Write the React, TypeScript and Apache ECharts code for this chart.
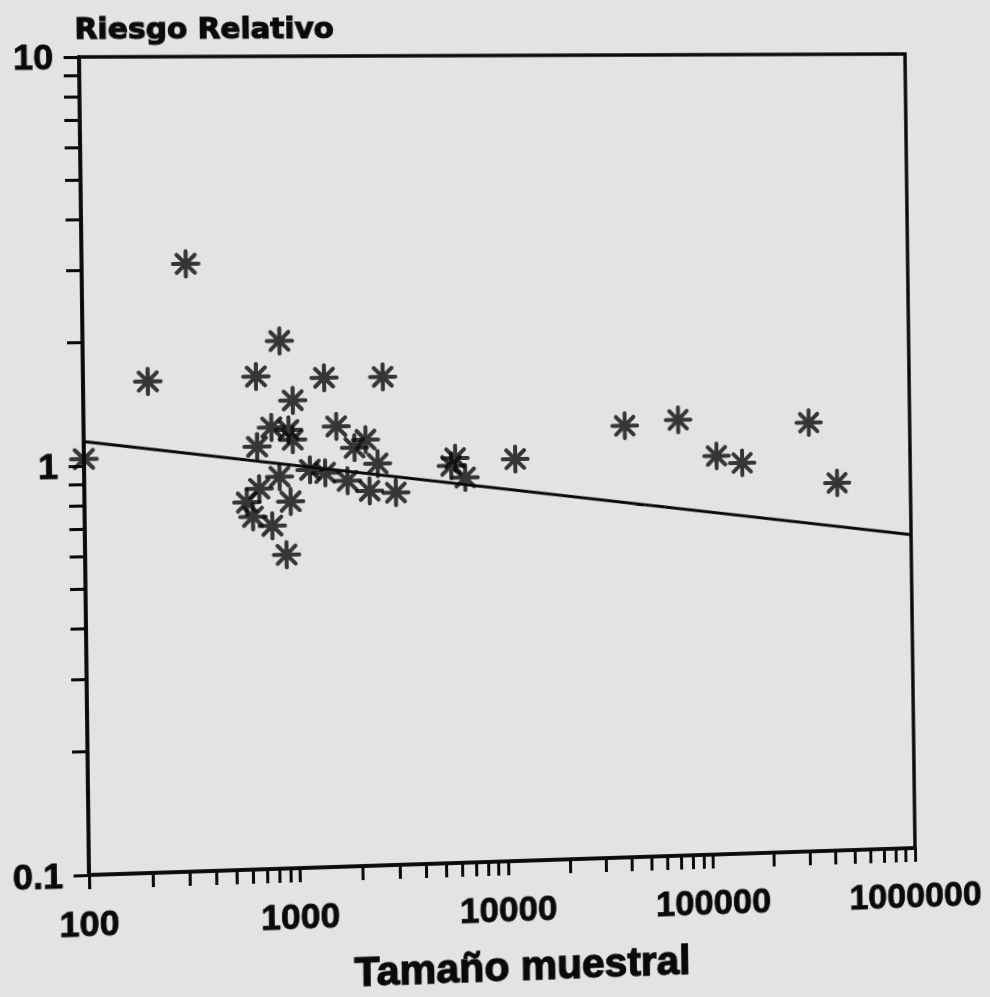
import React, { useEffect, useRef } from "react";
import * as echarts from "echarts";

// ---- data ----
const sampleSize = [
  100, 202, 310, 658, 855, 982, 774, 934, 976, 660, 1390, 2655, 1580, 1925, 2178,
  2482, 1176, 1390, 841, 1775, 2263, 3025, 672, 586, 947, 625, 772, 899, 5600,
  5865, 6540, 11440, 39200, 71600, 110000, 147000, 315000, 432000,
];
const relativeRisk = [
  1.04, 1.6, 3.1, 1.63, 1.99, 1.42, 1.22, 1.2, 1.135, 1.095, 1.61, 1.61, 1.22,
  1.078, 1.127, 0.983, 0.956, 0.938, 0.922, 0.894, 0.843, 0.832, 0.863, 0.8, 0.8,
  0.737, 0.699, 0.592, 0.964, 1.006, 0.9, 0.994, 1.19, 1.225, 0.992, 0.95, 1.19,
  0.838,
];
const fitX = [100, 1000000];
const fitY = [1.147, 0.615];

const xTickValues = [100, 1000, 10000, 100000, 1000000];
const xTickLabels = ["100", "1000", "10000", "100000", "1000000"];
const yTickValues = [0.1, 1, 10];
const yTickLabels = ["0.1", "1", "10"];
const tickMultipliers = [1, 2, 3, 4, 5, 6, 7, 8, 9];

const yTitle = "Riesgo Relativo";
const xTitle = "Tamaño muestral";

// ---- layout ----
const W = 990;
const H = 997;
const GRID = { left: 84, top: 56, width: 826, height: 806 };
// the scanned plot frame is slightly skewed: map the chart rectangle onto it
const SRC = [
  [84, 56],
  [910, 56],
  [910, 862],
  [84, 862],
];
const DST = [
  [79, 57],
  [905, 54],
  [915, 848],
  [89, 875],
];

function homography(src: number[][], dst: number[][]): number[] {
  const A: number[][] = [];
  for (let i = 0; i < 4; i++) {
    const [x, y] = src[i];
    const [X, Y] = dst[i];
    A.push([x, y, 1, 0, 0, 0, -x * X, -y * X, X]);
    A.push([0, 0, 0, x, y, 1, -x * Y, -y * Y, Y]);
  }
  const n = 8;
  for (let c = 0; c < n; c++) {
    let p = c;
    for (let r = c + 1; r < n; r++) if (Math.abs(A[r][c]) > Math.abs(A[p][c])) p = r;
    [A[c], A[p]] = [A[p], A[c]];
    for (let r = 0; r < n; r++) {
      if (r === c) continue;
      const f = A[r][c] / A[c][c];
      for (let k = c; k <= n; k++) A[r][k] -= f * A[c][k];
    }
  }
  return A.map((row, i) => row[n] / row[i]);
}

function ticksFor(decades: number[]): number[] {
  const out: number[] = [];
  for (let d = 0; d < decades.length - 1; d++) {
    for (const m of tickMultipliers) out.push(decades[d] * m);
  }
  out.push(decades[decades.length - 1]);
  return out;
}

const INK = "#0a0a0a";
const PAPER = "#e3e3e3";
const STAR =
  "path://M0,-10L0,10M-10,0L10,0M-7.07,-7.07L7.07,7.07M-7.07,7.07L7.07,-7.07";

export default function App() {
  const ref = useRef<HTMLDivElement>(null);

  useEffect(() => {
    if (!ref.current) return;
    const chart = echarts.init(ref.current, undefined, {
      renderer: "svg",
      width: W,
      height: H,
    });
    const labelStyle = {
      fontFamily: "Liberation Sans",
      fontWeight: "bold" as const,
      fontSize: 35,
      color: INK,
      textBorderColor: INK,
      textBorderWidth: 0.8,
    };
    chart.setOption({
      animation: false,
      backgroundColor: PAPER,
      grid: {
        ...GRID,
        show: true,
        borderColor: INK,
        borderWidth: 3.5,
        backgroundColor: "transparent",
      },
      xAxis: {
        type: "log",
        logBase: 10,
        min: 100,
        max: 1000000,
        axisLine: { show: true, onZero: false, lineStyle: { color: INK, width: 3.5 } },
        axisTick: {
          show: true,
          length: 14,
          customValues: ticksFor(xTickValues),
          lineStyle: { color: INK, width: 3 },
        },
        axisLabel: {
          ...labelStyle,
          margin: 30,
          customValues: xTickValues,
          formatter: (v: number) => {
            const i = xTickValues.findIndex((t) => Math.abs(t - v) / t < 1e-6);
            return i >= 0 ? xTickLabels[i] : "";
          },
        },
        splitLine: { show: false },
        minorTick: { show: false },
      },
      yAxis: {
        type: "log",
        logBase: 10,
        min: 0.1,
        max: 10,
        axisLine: { show: true, onZero: false, lineStyle: { color: INK, width: 3.5 } },
        axisTick: {
          show: true,
          length: 15,
          customValues: ticksFor(yTickValues),
          lineStyle: { color: INK, width: 3 },
        },
        axisLabel: {
          ...labelStyle,
          margin: 25,
          customValues: yTickValues,
          formatter: (v: number) => {
            const i = yTickValues.findIndex((t) => Math.abs(t - v) / t < 1e-6);
            return i >= 0 ? yTickLabels[i] : "";
          },
        },
        splitLine: { show: false },
      },
      graphic: [
        {
          type: "text",
          x: 80,
          y: 28,
          style: {
            text: yTitle,
            font: 'bold 29px "DejaVu Sans"',
            fill: INK,
            stroke: INK,
            lineWidth: 1.2,
            align: "left",
            verticalAlign: "middle",
          },
        },
        {
          type: "text",
          x: 511,
          y: 967,
          style: {
            text: xTitle,
            font: 'bold 41px "Liberation Sans"',
            lineHeight: 40,
            fill: INK,
            stroke: INK,
            lineWidth: 1.3,
            align: "center",
            verticalAlign: "middle",
          },
        },
      ],
      series: [
        {
          type: "line",
          data: fitX.map((x, i) => [x, fitY[i]]),
          showSymbol: false,
          lineStyle: { color: INK, width: 3 },
          silent: true,
          z: 2,
        },
        {
          type: "scatter",
          data: sampleSize.map((x, i) => [x, relativeRisk[i]]),
          symbol: STAR,
          symbolSize: 25,
          clip: false,
          itemStyle: {
            color: "rgba(0,0,0,0)",
            borderColor: INK,
            borderWidth: 4,
            borderCap: "round",
          },
          emphasis: { disabled: true },
          silent: true,
          z: 3,
        },
      ],
    });
    return () => chart.dispose();
  }, []);

  const h = homography(SRC, DST);
  const matrix = `matrix3d(${h[0]},${h[3]},0,${h[6]},${h[1]},${h[4]},0,${h[7]},0,0,1,0,${h[2]},${h[5]},0,1)`;

  return (
    <div style={{ position: "fixed", inset: 0, background: PAPER, overflow: "hidden" }}>
      <div
        ref={ref}
        style={{
          position: "absolute",
          left: 0,
          top: 0,
          width: W,
          height: H,
          transformOrigin: "0 0",
          transform: matrix,
        }}
      />
    </div>
  );
}
